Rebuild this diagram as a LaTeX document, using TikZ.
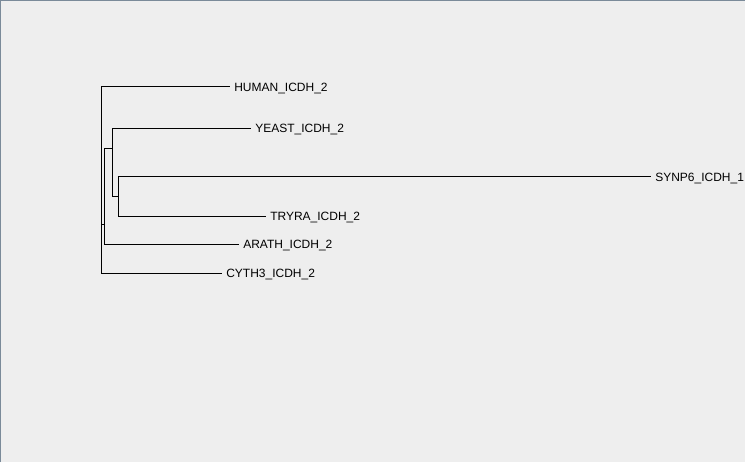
\documentclass[tikz,border=0pt]{standalone}
\usepackage{fontspec}
\setmainfont{Liberation Sans}
\definecolor{panelgray}{RGB}{238,238,238}
\definecolor{framegray}{RGB}{122,138,153}
\begin{document}
\begin{tikzpicture}[
          x=0.75pt, y=-0.75pt,
          branch/.style={draw=black, line width=0.75pt},
          leaf/.style={anchor=west, inner xsep=3pt, inner ysep=0pt, text height=0.716em, text depth=0pt, font=\fontsize{9pt}{11pt}\selectfont}
        ]
        
        \fill[panelgray] (0,0) rectangle (745,462);
        \useasboundingbox (0,0) rectangle (745,462);
        \draw[framegray, line width=0.75pt] (0.5,462) -- (0.5,0.5) -- (745,0.5);
        
        \node[leaf] (human) at (230,86.5) {HUMAN\_ICDH\_2};
        \node[leaf] (yeast) at (251,128) {YEAST\_ICDH\_2};
        \node[leaf] (synp6) at (651,176.5) {SYNP6\_ICDH\_1};
        \node[leaf] (tryra) at (266,216) {TRYRA\_ICDH\_2};
        \node[leaf] (arath) at (239,244) {ARATH\_ICDH\_2};
        \node[leaf] (cyth3) at (222,273) {CYTH3\_ICDH\_2};
        
        \coordinate (root) at (101.5,224.5);
        \coordinate (n2) at (104.5,224.5);
        \coordinate (n3) at (112.5,148.5);
        \coordinate (n4) at (118.5,196.5);
        
        \draw[branch] (n4) |- (synp6.west);
        \draw[branch] (n4) |- (tryra.west);
        \draw[branch] (n3) |- (yeast.west);
        \draw[branch] (n3) |- (n4);
        \draw[branch] (n2) |- (n3);
        \draw[branch] (n2) |- (arath.west);
        \draw[branch] (root) |- (human.west);
        \draw[branch] (root) -- (n2);
        \draw[branch] (root) |- (cyth3.west);
        
        \end{tikzpicture}
\end{document}
